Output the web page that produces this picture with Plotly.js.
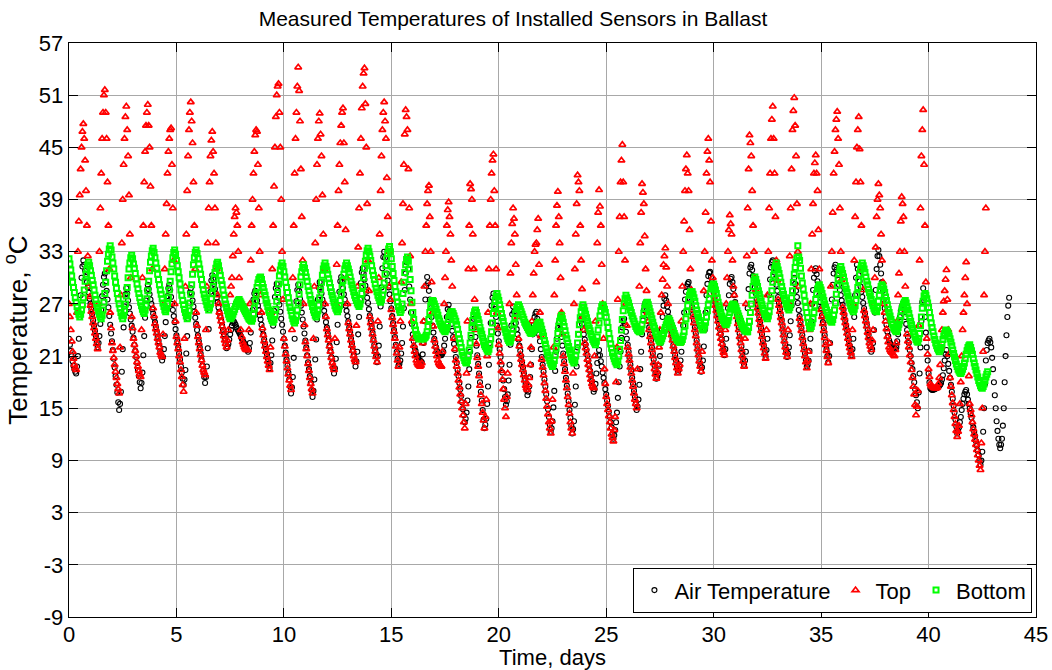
<!DOCTYPE html>
<html>
<head>
<meta charset="utf-8">
<script src="https://cdn.plot.ly/plotly-3.0.1.min.js"></script>
<style>
html,body{margin:0;padding:0;background:#ffffff;}
#chart{width:1052px;height:670px;}
</style>
</head>
<body>
<div id="chart"></div>
<script>
// Readings every hour, starting at day 0 (24 readings per day)
const SAMPLES_PER_DAY = 24;

const seriesNames = ["Air Temperature", "Top", "Bottom"];
const xTickValues = [0, 5, 10, 15, 20, 25, 30, 35, 40, 45];
const yTickValues = [-9, -3, 3, 9, 15, 21, 27, 33, 39, 45, 51, 57];
const yTickLabels = ["-9", "-3", "3", "9", "15", "21", "27", "33", "39", "45", "51", "57"];

// Air temperature (°C), one row per day
const airTemperature = [
  23, 22.3, 21.6, 21, 20.4, 19.9, 19.5, 19.2, 19, 19.8, 21, 23, 25.5, 28, 30, 31.3, 32, 31.5, 30.8, 30.1, 29.5, 28.9, 28.3, 27.6,
  27, 26.4, 25.8, 25.1, 24.5, 23.9, 23.3, 22.6, 22, 22.5, 23.3, 24.7, 26.3, 27.9, 29.2, 30.1, 30.5, 29.6, 28.5, 27.5, 26.6, 25.6, 24.6, 23.6,
  22.7, 21.7, 20.7, 19.7, 18.7, 17.7, 16.8, 15.7, 14.8, 15.5, 16.9, 19.2, 21.8, 24.3, 26.7, 28.1, 28.8, 28.2, 27.4, 26.6, 25.9, 25.2, 24.5, 23.8,
  23.1, 22.3, 21.6, 20.9, 20.2, 19.4, 18.7, 18, 17.3, 17.9, 19.1, 21.1, 23.3, 25.4, 27.4, 28.6, 29.2, 28.7, 28.1, 27.5, 27, 26.4, 25.9, 25.4,
  24.9, 24.3, 23.8, 23.2, 22.7, 22.1, 21.6, 21, 20.5, 20.9, 21.8, 23.3, 24.9, 26.5, 27.9, 28.8, 29.2, 28.6, 27.8, 27, 26.3, 25.6, 24.9, 24.1,
  23.4, 22.7, 22, 21.3, 20.6, 19.8, 19.1, 18.4, 17.7, 18.3, 19.4, 21.3, 23.3, 25.3, 27.1, 28.3, 28.8, 28.2, 27.4, 26.7, 26.1, 25.4, 24.7, 24,
  23.4, 22.7, 22, 21.3, 20.6, 19.9, 19.3, 18.6, 17.9, 18.6, 19.8, 21.9, 24.1, 26.3, 28.4, 29.7, 30.3, 29.9, 29.3, 28.7, 28.2, 27.7, 27.2, 26.6,
  26.1, 25.6, 25.1, 24.5, 24, 23.5, 23, 22.4, 21.9, 22.1, 22.4, 22.9, 23.5, 24, 24.5, 24.8, 25, 24.8, 24.6, 24.3, 24.1, 23.9, 23.7, 23.5,
  23.3, 23, 22.8, 22.6, 22.4, 22.1, 21.9, 21.7, 21.5, 21.9, 22.5, 23.7, 25, 26.3, 27.5, 28.2, 28.5, 28, 27.4, 26.8, 26.3, 25.7, 25.2, 24.6,
  24.1, 23.5, 22.9, 22.3, 21.8, 21.2, 20.7, 20.1, 19.6, 20.2, 21.1, 22.8, 24.5, 26.2, 27.8, 28.8, 29.3, 28.6, 27.7, 26.9, 26.1, 25.3, 24.6, 23.8,
  23, 22.2, 21.4, 20.6, 19.9, 19.1, 18.3, 17.5, 16.7, 17.4, 18.6, 20.8, 23, 25.2, 27.3, 28.6, 29.2, 28.5, 27.6, 26.8, 26, 25.2, 24.4, 23.6,
  22.8, 22, 21.1, 20.3, 19.5, 18.7, 17.9, 17.1, 16.3, 17, 18.3, 20.6, 22.9, 25.2, 27.5, 28.9, 29.5, 28.9, 28.2, 27.5, 26.9, 26.2, 25.6, 24.9,
  24.3, 23.6, 22.9, 22.2, 21.6, 20.9, 20.3, 19.6, 19, 19.6, 20.7, 22.6, 24.6, 26.5, 28.4, 29.6, 30.1, 29.5, 28.8, 28.1, 27.5, 26.8, 26.2, 25.6,
  25, 24.3, 23.7, 23, 22.4, 21.7, 21.1, 20.4, 19.8, 20.4, 21.5, 23.5, 25.5, 27.5, 29.4, 30.6, 31.1, 30.5, 29.8, 29.1, 28.4, 27.7, 27.1, 26.4,
  25.7, 25, 24.4, 23.7, 23, 22.3, 21.7, 21, 20.3, 21, 22.2, 24.4, 26.7, 28.9, 31.1, 32.4, 33, 32.3, 31.4, 30.5, 29.7, 28.9, 28.1, 27.3,
  26.5, 25.6, 24.8, 24, 23.2, 22.3, 21.5, 20.7, 19.9, 20.1, 20.5, 21.3, 22.5, 24.4, 26.5, 28.6, 30.5, 31.8, 32.4, 31, 29, 27.5, 26, 24.7,
  23.5, 22.7, 22, 21.6, 21.2, 21, 20.8, 20.6, 20.5, 20.4, 20.3, 21.2, 22.5, 25, 27.5, 29.1, 30.1, 29.4, 28.5, 27.5, 26.5, 25.5, 24.5, 23.7,
  23, 22.5, 22, 21.6, 21.3, 21.2, 21.1, 21.1, 21.1, 21.3, 21.5, 22.2, 23, 24.3, 25.5, 26.4, 26.9, 26.2, 25.4, 24.7, 23.9, 23.2, 22.4, 21.7,
  20.9, 20.2, 19.4, 18.7, 17.9, 17.2, 16.4, 15.7, 14.9, 14.2, 13.4, 13.8, 14.5, 15.9, 17.5, 19.5, 21.5, 23.1, 24.3, 25, 25.3, 24.3, 23.2, 22.2,
  21.1, 20.1, 19, 18, 16.9, 15.9, 14.8, 13.7, 12.7, 13.1, 13.8, 15.5, 17.5, 20, 22.5, 24.8, 26.8, 27.7, 28.2, 27.4, 26.4, 25.5, 24.5, 23.6,
  22.7, 21.8, 20.9, 20, 19.1, 18.2, 17.2, 16.3, 15.4, 15.8, 16.6, 18.2, 20, 22.3, 24.5, 25.8, 26.7, 26.1, 25.4, 24.8, 24.1, 23.5, 22.9, 22.2,
  21.6, 21, 20.3, 19.7, 19, 18.4, 17.8, 17.1, 16.5, 16.9, 17.5, 18.6, 20, 21.8, 23.5, 24.6, 25.5, 25.9, 26.1, 25.3, 24.4, 23.5, 22.7, 21.8,
  20.9, 20, 19.2, 18.3, 17.5, 16.6, 15.8, 14.9, 14, 13.1, 12.3, 12.7, 13.5, 15.1, 17, 19.3, 21.5, 23, 24.2, 24.8, 25, 24.1, 23.2, 22.2,
  21.3, 20.4, 19.5, 18.5, 17.6, 16.7, 15.8, 14.8, 13.9, 13, 12.1, 12.6, 13.5, 15.4, 17.5, 19.8, 22, 23.5, 24.6, 25.1, 25.3, 24.7, 24.1, 23.5,
  22.9, 22.3, 21.7, 21.1, 20.5, 19.9, 19.3, 18.7, 18.1, 17.5, 16.9, 17.2, 17.8, 19, 20.2, 21.1, 21.7, 21.1, 20.4, 19.8, 19.1, 18.5, 17.9, 17.2,
  16.6, 15.9, 15.3, 14.6, 14, 13.4, 12.8, 12.1, 11.5, 11.9, 12.5, 13.4, 14.5, 16.2, 18, 19.8, 21.5, 23.1, 24.3, 25, 25.3, 24.6, 23.8, 23,
  22.3, 21.5, 20.8, 20, 19.3, 18.5, 17.8, 17, 16.3, 15.5, 14.8, 15.2, 16, 17.7, 19.5, 21.5, 23.5, 25.1, 26.3, 26.9, 27.2, 26.5, 25.7, 25,
  24.3, 23.5, 22.8, 22, 21.3, 20.6, 19.9, 19.1, 18.4, 18.6, 19, 19.9, 21, 22.5, 24, 25.5, 26.8, 27.6, 28, 27.4, 26.7, 26.1, 25.5, 24.8,
  24.2, 23.6, 23, 22.3, 21.7, 21.1, 20.5, 19.8, 19.2, 19.4, 19.8, 20.5, 21.5, 23, 24.5, 26, 27.5, 28.4, 29, 29.3, 29.5, 28.8, 28, 27.3,
  26.6, 25.8, 25.1, 24.3, 23.6, 22.8, 22.1, 21.4, 20.7, 19.9, 19.2, 19.7, 20.5, 22.1, 24, 26, 28, 29.3, 30.2, 30.6, 30.7, 30.1, 29.5, 28.9,
  28.3, 27.7, 27.1, 26.5, 25.9, 25.3, 24.7, 24.1, 23.5, 22.9, 22.3, 21.7, 21.1, 21.8, 23, 24.7, 26.5, 28, 29.3, 29.9, 30.1, 29.5, 28.7, 28,
  27.2, 26.5, 25.8, 25, 24.3, 23.6, 22.9, 22.1, 21.4, 20.7, 20, 20.5, 21.5, 23.9, 26.5, 28.7, 30.5, 31.2, 31.5, 30.9, 30.2, 29.6, 28.9, 28.2,
  27.5, 26.9, 26.2, 25.5, 24.9, 24.2, 23.5, 22.8, 22.2, 21.5, 20.9, 21.7, 23, 25.5, 28, 29.8, 31.2, 31.8, 32, 31.3, 30.6, 29.9, 29.2, 28.5,
  27.8, 27.1, 26.4, 25.7, 25.1, 24.4, 23.7, 23, 22.3, 21.6, 20.9, 21.3, 22, 23.4, 25, 26.8, 28.5, 29.5, 30, 29.3, 28.5, 27.8, 27.1, 26.3,
  25.6, 24.9, 24.2, 23.4, 22.7, 22, 21.3, 20.5, 19.8, 20, 20.5, 21.6, 23, 25, 27, 28.6, 30, 30.8, 31.1, 30.4, 29.6, 28.8, 28, 27.2,
  26.5, 25.7, 24.9, 24.2, 23.4, 22.6, 21.8, 21, 20.3, 21, 22.5, 25, 27.5, 29.2, 30.5, 31.2, 31.5, 30.9, 30.3, 29.8, 29.2, 28.6, 28, 27.4,
  26.9, 26.3, 25.7, 25.1, 24.5, 24, 23.4, 22.8, 22.2, 21.6, 21.1, 21.8, 23, 25.5, 28, 30, 31.5, 31, 30.3, 29.6, 29, 28.4, 27.8, 27.1,
  26.5, 25.9, 25.3, 24.6, 24, 23.4, 22.8, 22.1, 21.5, 21.8, 22.5, 24, 26, 28.6, 31, 32.5, 33.2, 32.5, 31.5, 30.5, 29.5, 28.5, 27.5, 26.5,
  25.5, 24.6, 23.8, 23.3, 22.8, 22.5, 22.3, 22.1, 22, 21.9, 21.8, 21.8, 22, 22.7, 23.5, 24.5, 25.5, 26.2, 26.7, 26.9, 27, 26.3, 25.5, 24.7,
  24, 23.2, 22.5, 21.7, 21, 20.2, 19.5, 18.7, 18, 17.2, 16.5, 15.7, 15, 16.8, 19, 22, 25, 27.2, 28.8, 27.4, 25.5, 23.7, 22, 20.5,
  19, 18, 17.3, 17.2, 17.1, 17.1, 17.2, 17.2, 17.3, 17.3, 17.4, 17.5, 17.6, 17.7, 17.9, 18.3, 18.8, 19.6, 20.5, 21.2, 21.7, 21, 20.1, 19.3,
  18.5, 17.7, 16.9, 16.1, 15.3, 14.5, 13.7, 12.9, 12.1, 12.4, 12.8, 13.4, 14, 14.8, 15.5, 16.1, 16.6, 16.9, 17.1, 16.6, 16, 15.5, 15, 14.4,
  13.9, 13.3, 12.8, 12.3, 11.8, 11.2, 10.7, 10.1, 9.6, 9, 8.5, 9, 10, 12.3, 15, 17.8, 20.5, 21.7, 22.5, 22.8, 23, 22.6, 22, 20.8,
  19.5, 18, 16.5, 15, 13.5, 12.4, 11.5, 10.8, 10.4, 10.8, 11.5, 13, 15, 18, 21, 23.4, 25.5, 26.8, 27.7
];

// Top sensor (°C), one row per day
const topSensor = [
  27, 25.5, 24, 22.7, 21.5, 20.7, 20, 19.6, 19.4, 26, 33, 36.5, 39.5, 42.5, 45, 46.8, 47.7, 46, 43.5, 40, 36, 32.5, 29, 27.8,
  26.8, 26.1, 25.5, 24.8, 24.2, 23.6, 23, 22.4, 21.8, 27, 33, 38, 42, 46, 49, 51, 51.6, 49, 46, 41, 36, 31, 26, 24.2,
  22.5, 21.6, 20.8, 20, 19.2, 18.5, 17.8, 17.2, 16.7, 22, 28, 34, 39, 43, 46, 48.5, 49.7, 47, 44, 39.5, 35, 30, 25.5, 24.2,
  23, 22.3, 21.6, 21, 20.3, 19.8, 19.3, 18.9, 18.6, 24, 30, 36, 41, 44.5, 47.5, 49, 49.9, 47.5, 45, 40.5, 36, 31, 26.5, 25.6,
  24.7, 24.1, 23.6, 23, 22.5, 22, 21.4, 21.1, 20.9, 23.5, 27, 31, 35, 38.5, 42, 44.5, 46, 47, 47.2, 43, 38, 32, 27, 25,
  23.2, 22.5, 21.8, 21, 20.3, 19.4, 18.6, 17.7, 16.9, 23, 29, 35, 40, 44, 47, 49, 50.2, 48, 45.5, 41, 36, 31, 26, 24.5,
  23.2, 22.5, 21.8, 21.1, 20.5, 19.9, 19.4, 19.1, 18.8, 24, 29, 34, 38, 41, 44, 45.8, 46.8, 44.5, 42, 38, 34, 31, 28, 27,
  26, 25.5, 25, 24.4, 23.8, 23.3, 22.8, 22.4, 22, 22.8, 24, 26, 28, 29, 30, 32.5, 35, 37, 38, 37.5, 36, 33, 30, 27,
  24, 23.2, 22.6, 22.3, 22, 21.8, 21.7, 21.7, 21.7, 24, 27, 32, 36, 39, 42, 44.5, 46.4, 47, 46.8, 43, 38, 33, 28, 26,
  24.2, 23.4, 22.7, 22.1, 21.5, 20.9, 20.4, 19.9, 19.4, 22, 26, 31, 36, 40.5, 45, 48.5, 51, 52, 52.3, 49, 45, 39, 33, 27.5,
  23, 22.1, 21.2, 20.4, 19.6, 18.9, 18.2, 17.6, 17.1, 24, 30, 36, 42, 46, 49, 52, 54.2, 51.5, 48, 42.5, 37, 32, 27, 24.6,
  22.6, 21.8, 21, 20.1, 19.3, 18.5, 17.8, 17.2, 16.7, 23, 29, 34, 39, 43, 46, 48, 48.9, 46.5, 44, 39.5, 35, 31, 27, 25.5,
  24.1, 23.4, 22.8, 22.1, 21.5, 20.8, 20.2, 19.8, 19.4, 23, 27, 31.5, 36, 40, 43, 45.5, 47.5, 49, 49.5, 45.5, 41, 35.5, 30, 27,
  24.8, 24.1, 23.5, 22.8, 22.2, 21.6, 21, 20.6, 20.3, 24.5, 29, 33.5, 38, 42, 46, 49.5, 52, 53.5, 54.1, 50, 45, 38.5, 32, 28.5,
  25.5, 24.8, 24.2, 23.5, 22.8, 22.1, 21.5, 20.9, 20.3, 25, 30, 35, 40, 44, 47, 49, 50.2, 48, 46, 41.5, 37, 33, 29, 27.5,
  26.3, 25.4, 24.6, 23.8, 23, 22.1, 21.3, 20.5, 19.8, 22, 25, 29.5, 34, 38.5, 43, 46.5, 49.3, 48.5, 47, 42.5, 38, 32.5, 27, 25,
  23, 22.2, 21.5, 21, 20.5, 20.2, 20, 19.9, 19.8, 19.9, 20.2, 22.5, 25, 29, 33, 36, 38.5, 40, 40.6, 37, 33, 29.5, 26, 24.4,
  22.8, 22.1, 21.5, 21, 20.5, 20.2, 20, 19.9, 19.8, 21.5, 24, 27, 30, 33, 36, 37.8, 38.7, 37, 35, 32, 29, 26, 23, 21.8,
  20.5, 19.8, 19, 18.2, 17.4, 16.6, 15.8, 15, 14.2, 13.4, 12.7, 15.5, 19, 25, 31, 36, 40.8, 40.2, 39, 35, 31, 27.5, 24, 22.4,
  20.8, 19.8, 18.7, 17.6, 16.5, 15.5, 14.5, 13.6, 12.7, 14, 16, 21, 26, 31, 36, 39, 42, 43.5, 44.2, 40, 36, 31, 26, 24.2,
  22.3, 21.3, 20.3, 19.3, 18.3, 17.2, 16, 15, 14, 16.3, 19, 23, 27, 30.5, 34, 36.2, 38, 36.8, 35, 31.5, 28, 25.5, 23, 22.1,
  21.2, 20.6, 20, 19.4, 18.8, 18.2, 17.6, 17.3, 17.1, 17.7, 18.5, 20, 22, 25, 28, 30.5, 33, 33.8, 34, 35.5, 36.8, 31.5, 26, 23.3,
  20.6, 19.7, 18.8, 17.9, 17, 16.1, 15.2, 14.3, 13.4, 12.7, 12.1, 13.5, 16, 22, 28, 32, 36, 38.3, 39.9, 37, 34, 30, 26, 23.5,
  21, 20.1, 19.2, 18.2, 17.3, 16.3, 15.4, 14.4, 13.4, 12.7, 12.1, 19, 27, 31, 35, 38.5, 41.8, 41, 40, 36, 32, 28.7, 25.5, 24,
  22.5, 21.9, 21.3, 20.6, 20, 19.4, 18.8, 18.3, 17.8, 17.5, 17.3, 21, 25, 29.5, 34, 37.5, 40.1, 38.2, 36, 31.5, 27, 23, 19.5, 17.8,
  16.3, 15.5, 14.8, 14.1, 13.4, 12.7, 12, 11.6, 11.2, 12.5, 14, 18, 22, 27.5, 33, 37, 41, 43.5, 45.3, 41, 37, 32, 27, 24.5,
  22, 21.2, 20.5, 19.7, 19, 18.2, 17.5, 16.7, 16, 15.5, 15, 19.5, 24, 29, 34, 37.5, 40.8, 39.8, 38.5, 34.8, 31, 28.5, 26, 25,
  24, 23.2, 22.5, 21.7, 21, 20.2, 19.5, 18.9, 18.4, 19.2, 20, 22, 24, 26, 28, 29.8, 31.5, 32.5, 33.4, 31.2, 29, 27, 25, 24.5,
  24, 23.4, 22.8, 22.1, 21.5, 20.8, 20.2, 19.6, 19, 19.5, 20, 22.5, 25, 29, 33, 36.5, 40, 42.5, 44.1, 42, 40, 35.5, 31, 28.6,
  26.3, 25.5, 24.8, 24, 23.3, 22.5, 21.8, 21.1, 20.4, 19.8, 19.2, 21.5, 24, 28.5, 33, 37.5, 42, 44.5, 46, 43.5, 41, 36.5, 32, 30,
  28, 27.4, 26.8, 26.2, 25.6, 25, 24.3, 23.6, 23, 22.4, 21.8, 21.4, 21.1, 24, 27, 30, 33, 35.5, 37.2, 36.2, 35, 32, 29, 28,
  27, 26.2, 25.5, 24.7, 24, 23.2, 22.5, 21.7, 21, 20.4, 19.8, 23, 27, 32.5, 38, 42.5, 46.4, 45.5, 44, 40, 36, 33, 30, 28.6,
  27.2, 26.5, 25.9, 25.2, 24.6, 23.9, 23.2, 22.5, 21.9, 21.3, 20.7, 24, 28, 33, 38, 42, 46, 48.2, 49.7, 46, 42, 37, 32, 29.7,
  27.5, 26.8, 26.1, 25.4, 24.8, 24.1, 23.4, 22.7, 22, 21.4, 20.9, 24, 27, 32.5, 38, 42.5, 47, 49.2, 50.7, 47.5, 44, 38.5, 33, 29,
  25.3, 24.6, 23.9, 23.1, 22.4, 21.7, 21, 20.3, 19.6, 20.5, 21.5, 24, 27, 31, 35, 38.5, 42, 43.2, 44.1, 42, 40, 35.5, 31, 28.6,
  26.3, 25.5, 24.7, 23.9, 23.1, 22.3, 21.6, 20.9, 20.2, 22.5, 25, 29, 33, 37.5, 42, 44.5, 47, 48.2, 49.1, 46, 43, 38, 33, 29.8,
  26.6, 26, 25.4, 24.8, 24.2, 23.6, 23, 22.4, 21.9, 21.4, 20.9, 24, 27, 32, 37, 41, 45, 47, 48.5, 44.8, 41, 36, 31, 28.6,
  26.2, 25.6, 25, 24.4, 23.7, 23.1, 22.5, 22.1, 21.7, 22.8, 24, 27, 30, 33.5, 37, 39, 40.8, 39.5, 38, 35, 32, 29.5, 27, 26,
  25, 24.1, 23.2, 22.6, 22, 21.7, 21.5, 21.4, 21.3, 21.1, 21, 21.7, 22.5, 25, 28, 30.5, 33, 36.5, 39.3, 38.5, 37, 33, 29, 26.2,
  23.5, 22.7, 22, 21.1, 20.3, 19.4, 18.5, 17.5, 16.6, 15.4, 14.2, 15.2, 17, 24.5, 32, 38, 44, 47, 49.3, 43, 36, 29.5, 23, 21.2,
  19.5, 18.6, 17.8, 17.6, 17.5, 17.4, 17.3, 17.3, 17.3, 17.3, 17.4, 17.8, 18.5, 20, 22, 24, 26, 27.3, 28.5, 29.8, 30.9, 27.5, 24, 21.2,
  18.5, 17.5, 16.5, 15.6, 14.8, 14, 13.2, 12.4, 11.7, 12.3, 13, 15.5, 18, 21, 24, 26, 28, 30, 31.8, 27, 22, 18.7, 15.5, 14.8,
  14.2, 13.4, 12.6, 12, 11.4, 10.8, 10.2, 9.6, 9, 8.4, 7.9, 11, 15, 21.5, 28, 33, 38
];

// Bottom sensor (°C), one row per day
const bottomSensor = [
  32.2, 31.6, 30.9, 30.2, 29.5, 28.9, 28.3, 27.7, 27.2, 26.7, 26.2, 25.8, 25.5, 25.8, 26.3, 26.9, 27.7, 28.6, 29.6, 30.4, 31, 31.5, 31.8, 31.4,
  30.8, 30.3, 29.7, 29.2, 28.6, 28, 27.5, 27, 26.6, 26.2, 25.8, 25.5, 25.3, 25.7, 26.3, 27.2, 28.2, 29.5, 30.8, 31.9, 32.7, 33.3, 33.7, 33.2,
  32.4, 31.7, 31, 30.2, 29.5, 28.8, 28.2, 27.6, 27, 26.5, 26, 25.6, 25.3, 25.7, 26.2, 27, 27.9, 28.9, 30, 31, 31.7, 32.3, 32.6, 32.2,
  31.6, 31.1, 30.5, 29.9, 29.3, 28.7, 28.2, 27.7, 27.2, 26.8, 26.4, 26.1, 25.9, 26.3, 26.8, 27.6, 28.5, 29.6, 30.8, 31.8, 32.5, 33.1, 33.4, 32.9,
  32.3, 31.7, 31.1, 30.4, 29.8, 29.2, 28.6, 28.1, 27.6, 27.1, 26.7, 26.3, 26.1, 26.5, 27, 27.7, 28.6, 29.6, 30.7, 31.6, 32.3, 32.9, 33.2, 32.7,
  32, 31.4, 30.7, 30, 29.3, 28.6, 28, 27.4, 26.9, 26.4, 26, 25.6, 25.3, 25.7, 26.2, 27.1, 28.1, 29.2, 30.4, 31.5, 32.3, 32.9, 33.2, 32.8,
  32.2, 31.6, 31, 30.4, 29.8, 29.2, 28.6, 28.1, 27.7, 27.3, 26.9, 26.6, 26.3, 26.6, 27, 27.6, 28.2, 29, 29.9, 30.6, 31.1, 31.6, 31.8, 31.4,
  30.8, 30.3, 29.7, 29.2, 28.6, 28, 27.5, 27, 26.6, 26.2, 25.8, 25.5, 25.3, 25.4, 25.6, 25.8, 26.1, 26.4, 26.7, 27, 27.2, 27.4, 27.5, 27.3,
  27.1, 26.9, 26.7, 26.5, 26.3, 26.1, 25.9, 25.7, 25.5, 25.3, 25.2, 25.1, 25, 25.3, 25.8, 26.5, 27.3, 28.1, 28.9, 29.4, 29.8, 30, 30.1, 29.8,
  29.3, 28.9, 28.4, 28, 27.5, 27.1, 26.7, 26.3, 26, 25.6, 25.3, 25.1, 24.9, 25.2, 25.7, 26.4, 27.3, 28.3, 29.3, 30.2, 30.9, 31.4, 31.7, 31.3,
  30.7, 30.1, 29.5, 28.9, 28.3, 27.7, 27.1, 26.6, 26.2, 25.7, 25.3, 25, 24.8, 25.1, 25.6, 26.3, 27.1, 28.1, 29.2, 30.1, 30.7, 31.2, 31.5, 31.1,
  30.6, 30.1, 29.6, 29, 28.5, 28, 27.5, 27.1, 26.7, 26.3, 26, 25.7, 25.5, 25.8, 26.2, 26.9, 27.7, 28.6, 29.5, 30.3, 31, 31.4, 31.7, 31.3,
  30.9, 30.4, 29.9, 29.4, 28.9, 28.4, 28, 27.6, 27.2, 26.8, 26.5, 26.3, 26.1, 26.4, 26.8, 27.4, 28.1, 28.9, 29.7, 30.4, 31, 31.4, 31.7, 31.4,
  31, 30.6, 30.1, 29.6, 29.2, 28.8, 28.4, 28, 27.7, 27.4, 27.1, 26.9, 26.7, 27, 27.5, 28.2, 29, 30, 31.1, 31.9, 32.6, 33.1, 33.4, 33,
  32.5, 32, 31.4, 30.8, 30.3, 29.8, 29.3, 28.8, 28.4, 28, 27.7, 27.4, 27.2, 27.5, 28, 28.6, 29.4, 30.4, 31.4, 32.2, 32.8, 33.3, 33.6, 33,
  32.2, 31.3, 30.5, 29.7, 29, 28.4, 27.8, 27.2, 26.7, 26.3, 26, 26.3, 27, 28.2, 29.5, 30.6, 31.5, 32.1, 32.4, 31.9, 31, 29.8, 28.5, 27.2,
  26, 25.2, 24.5, 24, 23.5, 23.3, 23.1, 23, 23, 23, 23, 23, 23, 23.1, 23.2, 23.4, 23.8, 24.4, 25.2, 26, 26.8, 27.2, 27.4, 27.3,
  27, 26.7, 26.4, 26, 25.7, 25.3, 25, 24.7, 24.5, 24.3, 24.1, 23.9, 23.8, 24, 24.3, 24.7, 25.2, 25.6, 25.9, 26.1, 26.1, 25.9, 25.6, 25.3,
  25, 24.6, 24.1, 23.5, 23, 22.5, 22, 21.5, 21.1, 20.8, 20.5, 20.3, 20.2, 20.5, 21, 21.7, 22.5, 23.4, 24.3, 25.1, 25.7, 26.1, 26.3, 26,
  25.6, 25.2, 24.8, 24.3, 23.9, 23.5, 23.1, 22.7, 22.3, 22.1, 21.9, 21.7, 21.5, 21.8, 22.3, 23, 23.8, 24.8, 25.9, 26.7, 27.4, 27.9, 28.2, 27.8,
  27.4, 26.9, 26.4, 25.9, 25.4, 25, 24.5, 24.1, 23.7, 23.3, 23, 22.8, 22.6, 22.8, 23.1, 23.6, 24.1, 24.7, 25.4, 25.9, 26.4, 26.7, 26.9, 26.7,
  26.4, 26.1, 25.8, 25.5, 25.2, 24.9, 24.7, 24.5, 24.3, 24.1, 23.9, 23.7, 23.6, 23.7, 23.8, 23.9, 24.1, 24.2, 24.4, 24.6, 24.8, 24.9, 24.9, 24.5,
  24.1, 23.7, 23.3, 22.8, 22.4, 21.9, 21.5, 21.1, 20.8, 20.5, 20.2, 20, 19.8, 20.1, 20.5, 21.1, 21.9, 22.7, 23.6, 24.4, 25, 25.4, 25.7, 25.3,
  24.9, 24.4, 23.9, 23.4, 23, 22.5, 22.1, 21.7, 21.3, 20.9, 20.6, 20.4, 20.2, 20.5, 21, 21.7, 22.5, 23.5, 24.6, 25.4, 26.1, 26.6, 26.9, 26.6,
  26.2, 25.8, 25.4, 25, 24.6, 24.2, 23.9, 23.5, 23.2, 22.9, 22.7, 22.5, 22.3, 22.7, 23.2, 24, 24.8, 25.6, 26.2, 26.7, 26.9, 26.7, 26.4, 26,
  25.5, 24.9, 24.3, 23.6, 23, 22.4, 21.9, 21.4, 21, 20.7, 20.4, 20.2, 20, 20.4, 21, 21.8, 22.8, 24, 25.2, 26.2, 27, 27.6, 28, 27.7,
  27.4, 27.1, 26.7, 26.3, 26, 25.6, 25.3, 25, 24.7, 24.4, 24.2, 24, 23.9, 23.8, 23.8, 24.1, 24.6, 25.2, 25.9, 26.5, 26.9, 27.1, 27.2, 26.9,
  26.5, 26.1, 25.7, 25.3, 24.9, 24.5, 24.2, 23.8, 23.5, 23.2, 23, 22.8, 22.6, 22.8, 23, 23.3, 23.6, 24, 24.3, 24.6, 24.9, 25.1, 25.3, 25.1,
  24.8, 24.5, 24.2, 23.9, 23.6, 23.3, 23.1, 22.9, 22.8, 22.7, 22.6, 22.6, 22.7, 22.9, 23.3, 23.8, 24.5, 25.3, 26.1, 26.8, 27.5, 28, 28.3, 28.4,
  28.4, 28.1, 27.7, 27.3, 26.8, 26.3, 25.9, 25.5, 25.1, 24.8, 24.5, 24.2, 24, 24.2, 24.5, 24.9, 25.5, 26.2, 26.9, 27.6, 28.2, 28.7, 29, 29.2,
  29.3, 29, 28.6, 28.2, 27.7, 27.2, 26.8, 26.4, 26, 25.6, 25.3, 25.1, 24.9, 24.7, 24.6, 24.8, 25.1, 25.5, 26, 26.4, 26.7, 26.9, 27, 26.9,
  26.7, 26.5, 26.2, 25.9, 25.6, 25.3, 25, 24.7, 24.5, 24.3, 24.1, 24, 23.9, 23.8, 23.8, 24.3, 25, 26, 27, 28, 29, 29.6, 30.1, 29.8,
  29.4, 29, 28.5, 28.1, 27.7, 27.3, 26.9, 26.5, 26.2, 25.9, 25.7, 25.5, 25.3, 25.6, 26.1, 26.8, 27.6, 28.5, 29.5, 30.3, 31, 31.4, 31.7, 31.3,
  30.9, 30.5, 30, 29.5, 29, 28.5, 28.1, 27.7, 27.4, 27, 26.7, 26.5, 26.3, 26.6, 27, 27.7, 28.5, 29.5, 30.4, 31.2, 31.8, 32.3, 33.7, 32.4,
  32, 31.1, 30.2, 29.4, 28.7, 28, 27.3, 26.6, 26, 25.4, 24.9, 24.5, 24.2, 24.4, 24.8, 25.3, 26, 26.8, 27.5, 28.2, 28.7, 29, 29.2, 28.9,
  28.6, 28.2, 27.8, 27.4, 27, 26.6, 26.3, 26, 25.7, 25.4, 25.2, 25, 24.9, 25.2, 25.7, 26.3, 27.1, 28.1, 29.1, 29.9, 30.5, 31, 31.3, 30.9,
  30.5, 30.1, 29.6, 29.1, 28.7, 28.3, 27.9, 27.5, 27.1, 26.8, 26.5, 26.3, 26.1, 26.4, 26.8, 27.4, 28.1, 28.9, 29.7, 30.4, 31, 31.4, 31.7, 31.4,
  31, 30.6, 30.1, 29.6, 29.2, 28.7, 28.3, 27.9, 27.5, 27.1, 26.8, 26.5, 26.3, 26.2, 26.1, 26.6, 27.3, 28, 28.6, 29, 29.2, 29, 28.7, 28.3,
  27.8, 27.4, 26.9, 26.4, 26, 25.6, 25.2, 24.9, 24.6, 24.3, 24.1, 23.9, 23.8, 24, 24.3, 24.7, 25.1, 25.6, 26.2, 26.6, 27, 27.2, 27.4, 27.1,
  26.7, 26.3, 25.9, 25.4, 25, 24.6, 24.2, 23.8, 23.5, 23.2, 22.9, 22.7, 22.6, 23, 23.6, 24.5, 25.5, 26.5, 27.3, 27.9, 28.2, 28, 27.6, 27.1,
  26.6, 26, 25.4, 24.8, 24.3, 23.8, 23.3, 22.9, 22.5, 22.2, 21.9, 21.7, 21.5, 21.7, 22, 22.4, 22.9, 23.3, 23.6, 23.9, 24, 23.8, 23.6, 23.3,
  23, 22.6, 22.2, 21.7, 21.3, 20.9, 20.5, 20.1, 19.8, 19.5, 19.3, 19.1, 19, 19.2, 19.5, 19.8, 20.2, 20.7, 21.2, 21.6, 22, 22.2, 22.3, 22,
  21.6, 21.2, 20.7, 20.2, 19.8, 19.4, 19, 18.6, 18.2, 17.9, 17.6, 17.4, 17.3, 17.5, 17.8, 18.2, 18.6, 18.9, 19.2
];

function sampleTimes(values) {
  return values.map(function (_, i) { return i / SAMPLES_PER_DAY; });
}

const traces = [
  {
    type: "scatter", mode: "markers", name: seriesNames[0],
    x: sampleTimes(airTemperature), y: airTemperature,
    marker: { symbol: "circle-open", size: 5, color: "#000000", line: { width: 1.1, color: "#000000" } }
  },
  {
    type: "scatter", mode: "markers", name: seriesNames[1],
    x: sampleTimes(topSensor), y: topSensor,
    marker: { symbol: "triangle-up-open", size: 6, color: "#ff0000", line: { width: 1.7, color: "#ff0000" } }
  },
  {
    type: "scatter", mode: "markers", name: seriesNames[2],
    x: sampleTimes(bottomSensor), y: bottomSensor,
    marker: { symbol: "square-open", size: 5, color: "#00ff00", line: { width: 2, color: "#00ff00" } }
  }
];

const axisCommon = {
  showline: true, linecolor: "#000000", linewidth: 1.3, mirror: "ticks",
  ticks: "inside", ticklen: 9, tickcolor: "#000000", tickwidth: 1,
  showgrid: true, gridcolor: "#a8a8a8", gridwidth: 1,
  zeroline: false,
  tickfont: { family: "Liberation Sans, Arial, sans-serif", size: 22, color: "#000000" }
};

const layout = {
  width: 1052, height: 670,
  paper_bgcolor: "#ffffff", plot_bgcolor: "#ffffff",
  margin: { l: 69, r: 16, t: 43, b: 53 },
  font: { family: "Liberation Sans, Arial, sans-serif", color: "#000000" },
  title: {
    text: "Measured Temperatures of Installed Sensors in Ballast",
    font: { size: 21, family: "Liberation Sans, Arial, sans-serif", color: "#000000" },
    x: 0.4876, xref: "container", xanchor: "center",
    y: 0.972, yref: "container", yanchor: "middle"
  },
  xaxis: Object.assign({}, axisCommon, {
    range: [0, 45], tickvals: xTickValues,
    ticklabelstandoff: -3,
    title: { text: "Time, days", font: { size: 22, color: "#000000" }, standoff: 6 }
  }),
  yaxis: Object.assign({}, axisCommon, {
    range: [-9, 57], tickvals: yTickValues, ticktext: yTickLabels,
    title: { text: "Temperature, <sup>o</sup>C", font: { size: 26, color: "#000000" }, standoff: 4 }
  }),
  legend: {
    orientation: "h",
    x: 0.996, xanchor: "right", xref: "paper",
    y: 0.007, yanchor: "bottom", yref: "paper",
    bgcolor: "#ffffff", bordercolor: "#000000", borderwidth: 1.3,
    font: { size: 22, color: "#000000" },
    itemwidth: 30
  },
  showlegend: true
};

Plotly.newPlot("chart", traces, layout, { displayModeBar: false, staticPlot: true });
</script>
</body>
</html>
